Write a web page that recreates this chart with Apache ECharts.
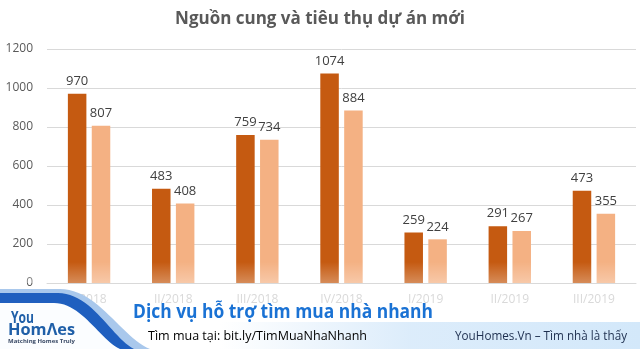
<!DOCTYPE html>
<html><head><meta charset="utf-8">
<script src="https://cdn.jsdelivr.net/npm/echarts@6/dist/echarts.min.js"></script>
<style>html,body{margin:0;padding:0;background:#fff}#c{width:640px;height:349px}</style>
</head><body><div id="c"></div>
<script>
const categories = ['I/2018','II/2018','III/2018','IV/2018','I/2019','II/2019','III/2019'];
const supply = [970, 483, 759, 1074, 259, 291, 473];
const sold = [807, 408, 734, 884, 224, 267, 355];
const yTicks = [0, 200, 400, 600, 800, 1000, 1200];

function wave(y0, xs, c1, c2, xe) {
  const pts = [[0, y0], [xs, y0]];
  const p0 = [xs, y0], p1 = c1, p2 = c2, p3 = [xe, 349];
  for (let i = 1; i <= 24; i++) {
    const t = i / 24, u = 1 - t;
    pts.push([
      u*u*u*p0[0] + 3*u*u*t*p1[0] + 3*u*t*t*p2[0] + t*t*t*p3[0],
      u*u*u*p0[1] + 3*u*u*t*p1[1] + 3*u*t*t*p2[1] + t*t*t*p3[1]
    ]);
  }
  pts.push([0, 349]);
  return pts;
}
const cv = document.createElement('canvas').getContext('2d');
function sx(text, css, target) { cv.font = css; return target / cv.measureText(text).width; }

const font = '"Open Sans", "Noto Sans", sans-serif';
function fitText(text, x, y, size, weight, color, target, z) {
  return {type: 'text', z: z || 110, x: x, y: y, scaleX: sx(text, weight + ' ' + size + 'px ' + font, target),
    style: {text: text, x: 0, y: 0, verticalAlign: 'top', fontFamily: font, fontWeight: weight, fontSize: size, fill: color}};
}

const chart = echarts.init(document.getElementById('c'));
chart.setOption({
  animation: false,
  backgroundColor: '#fff',
  title: {
    text: 'Nguồn cung và tiêu thụ dự án mới',
    left: 'center', top: 6,
    textStyle: {fontFamily: font, fontSize: 17, fontWeight: 'bold', color: '#595959'}
  },
  grid: {left: 47, right: 4, top: 49, bottom: 66},
  xAxis: {
    type: 'category', data: categories,
    axisTick: {show: false},
    axisLine: {lineStyle: {color: '#d9d9d9'}},
    axisLabel: {fontFamily: font, fontSize: 12, color: '#d9d9d9', margin: 11}
  },
  yAxis: {
    type: 'value', min: yTicks[0], max: yTicks[yTicks.length-1], interval: 200,
    axisLabel: {fontFamily: font, fontSize: 12, color: '#595959', margin: 14, formatter: v => String(v)},
    splitLine: {lineStyle: {color: '#d9d9d9'}}
  },
  series: [
    {type: 'bar', data: supply, barWidth: '22%', barGap: '29%',
     itemStyle: {color: '#C55A11'},
     label: {show: true, position: 'top', distance: 6, fontFamily: font, fontSize: 13, color: '#404040'}},
    {type: 'bar', data: sold, barWidth: '22%',
     itemStyle: {color: '#F4B183'},
     label: {show: true, position: 'top', distance: 6, fontFamily: font, fontSize: 13, color: '#404040'}}
  ],
  graphic: [
    {type: 'rect', z: 100, shape: {x: 0, y: 262, width: 640, height: 21},
     style: {fill: new echarts.graphic.LinearGradient(0,0,0,1,[{offset:0,color:'rgba(255,255,255,0)'},{offset:1,color:'rgba(255,255,255,0.3)'}])}},
    {type: 'rect', z: 100, shape: {x: 220, y: 322, width: 420, height: 27},
     style: {fill: new echarts.graphic.LinearGradient(0,0,1,0,[{offset:0,color:'rgba(214,233,250,0)'},{offset:0.45,color:'rgba(214,233,250,0.85)'},{offset:1,color:'#d3e8fa'}])}},
    {type: 'polygon', z: 101, shape: {points: wave(289, 60, [98,289], [122,338], 150)}, style: {fill: '#a9c8ec'}},
    {type: 'polygon', z: 102, shape: {points: wave(293, 58, [92,293], [112,338], 134)}, style: {fill: '#1f5fbf'}},
    {type: 'polygon', z: 103, shape: {points: wave(303, 54, [82,303], [100,340], 120)}, style: {fill: '#fbfdff'}},
    fitText('You', 11, 310, 16, 'bold', '#1f5fa8', 23),
    fitText('HomΛes', 8, 322, 16, 'bold', '#1f5fa8', 67),
    fitText('Matching Homes Truly', 8, 338, 6, 'bold', '#3a4a66', 67),
    fitText('Dịch vụ hỗ trợ tìm mua nhà nhanh', 133, 302, 20, 'bold', '#1a72d4', 300),
    {type: 'text', z: 110, x: 148, y: 330, scaleX: sx('Tìm mua tại: bit.ly/TimMuaNhaNhanh', '13px ' + font, 219),
     style: {x: 0, y: 0, verticalAlign: 'top', rich: {a: {fontFamily: font, fontSize: 13, color: '#1e2f4f'}, b: {fontFamily: font, fontSize: 13, color: '#1a72d4'}}, text: '{a|Tìm mua tại: }{b|bit.ly/TimMuaNhaNhanh}'}},
    fitText('YouHomes.Vn – Tìm nhà là thấy', 455, 330, 13, 'normal', '#1e2f4f', 172)
  ]
});
</script></body></html>
